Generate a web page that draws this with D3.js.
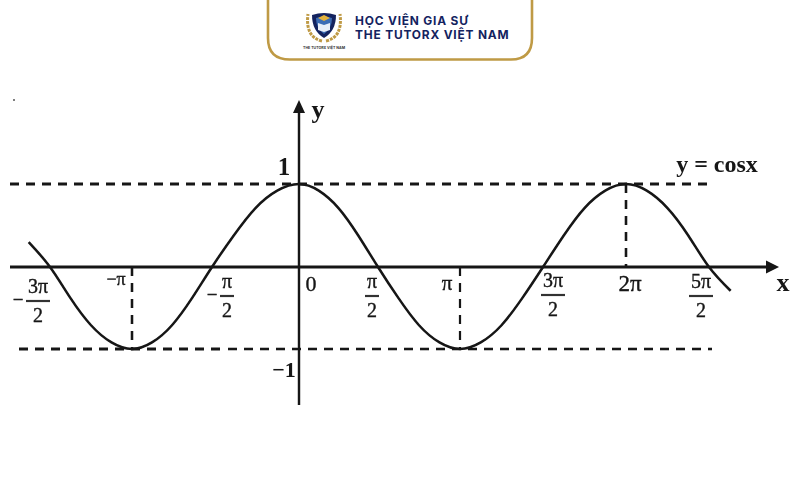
<!DOCTYPE html>
<html><head><meta charset="utf-8">
<script src="https://cdn.jsdelivr.net/npm/d3@7/dist/d3.min.js"></script>
<style>html,body{margin:0;padding:0;background:#fff}svg{display:block}</style></head>
<body><div id="chart"></div>
<script>
// x values are multiples of pi
const tickValues = [-1.5,-1,-0.5,0,0.5,1,1.5,2,2.5];
const curveX = [-1.63,-1.5,-1.375,-1.25,-1.125,-1,-0.875,-0.75,-0.625,-0.5,-0.375,-0.25,-0.125,0,0.125,0.25,0.375,0.5,0.625,0.75,0.875,1,1.125,1.25,1.375,1.5,1.625,1.75,1.875,2,2.125,2.25,2.375,2.5,2.63];
const curveY = [0.30,0,-0.38,-0.71,-0.92,-1,-0.92,-0.71,-0.38,0,0.38,0.71,0.92,1,0.92,0.71,0.38,0,-0.38,-0.71,-0.92,-1,-0.92,-0.71,-0.38,0,0.38,0.71,0.92,1,0.92,0.71,0.38,0,-0.29];
const fractionLabels = [["3π","2","−"],["π","2","−"],["π","2",""],["3π","2",""],["5π","2",""]];
const plainLabels = ["−π","0","π","2π"];
const axisNames = ["x","y"];
const levelLabels = ["1","−1"];
const formula = "y = cosx";
const brandLines = ["HỌC VIỆN GIA SƯ","THE TUTORX VIỆT NAM"];
const brandSmall = "THE TUTORX VIỆT NAM";

const W=800,H=500;
const svg=d3.select("#chart").append("svg").attr("width",W).attr("height",H).attr("viewBox",`0 0 ${W} ${H}`);
const defs=svg.append("defs");
defs.append("filter").attr("id","soft").append("feGaussianBlur").attr("stdDeviation",0.45);
const x=d3.scaleLinear().domain(tickValues).range([50,132,212,299,378,460,543,626,709]);
const y=d3.scaleLinear().domain([-1,0,1]).range([349,267,184]);
const ink="#141414";
const g=svg.append("g").attr("filter","url(#soft)");

// scan speck
g.append("circle").attr("cx",14).attr("cy",100).attr("r",1).attr("fill","#555");

// guides
function guide(x1,y1,x2,y2,w){g.append("line").attr("x1",x1).attr("y1",y1).attr("x2",x2).attr("y2",y2)
  .attr("stroke",ink).attr("stroke-width",w).attr("stroke-dasharray","9 7");}
guide(10,y(1),712,y(1),2.8);
guide(19,y(-1),220,y(-1),3.2);
guide(228,y(-1),712,y(-1),2.5);
guide(x(-1),y(0),x(-1),y(-1),2.5);
guide(x(1),y(0),x(1),y(-1),2.2);
guide(x(2),y(1),x(2),y(0),2.6);

// axes
g.append("line").attr("x1",10).attr("x2",770).attr("y1",y(0)).attr("y2",y(0)).attr("stroke",ink).attr("stroke-width",2.8);
g.append("line").attr("x1",x(0)).attr("x2",x(0)).attr("y1",405).attr("y2",110).attr("stroke",ink).attr("stroke-width",2.4);
g.append("path").attr("d",`M779,${y(0)}L766,${y(0)-6.5}L766,${y(0)+6.5}Z`).attr("fill",ink);
g.append("path").attr("d",`M${x(0)},100L${x(0)-6},113L${x(0)+6},113Z`).attr("fill",ink);

// curve
const line=d3.line().x(d=>x(d[0])).y(d=>y(d[1])).curve(d3.curveNatural);
g.append("path").datum(curveX.map((v,i)=>[v,curveY[i]])).attr("d",line).attr("fill","none").attr("stroke",ink).attr("stroke-width",2.5);

// text helper
function t(s,px,py,size,bold,anchor){return g.append("text").attr("x",px).attr("y",py).attr("font-family","'Liberation Serif',serif")
  .attr("font-size",size).attr("font-weight",bold?"bold":"normal").attr("text-anchor",anchor||"middle").attr("fill",ink)
  .attr("stroke",bold?"none":ink).attr("stroke-width",bold?0:0.35).text(s);}

// fractions: center offset from tick, numerator baseline, bar half width
const fracTicks=[-1.5,-0.5,0.5,1.5,2.5];
const fracCfg=[{dx:-12,ny:293,hw:12,minus:20},{dx:15,ny:288,hw:7,minus:15},{dx:-6,ny:288,hw:7},{dx:10,ny:287,hw:12},{dx:-8,ny:288,hw:12}];
fractionLabels.forEach((f,i)=>{
  const c=fracCfg[i],cx=x(fracTicks[i])+c.dx;
  t(f[0],cx,c.ny,20,false);
  g.append("line").attr("x1",cx-c.hw).attr("x2",cx+c.hw).attr("y1",c.ny+8).attr("y2",c.ny+8).attr("stroke","#333").attr("stroke-width",2.2);
  t(f[1],cx,c.ny+29,20,false);
  if(f[2]) t(f[2],cx-c.minus,c.ny+13,19,false,"middle");
});
// plain tick labels
const plainTicks=[-1,0,1,2];
const plainCfg=[{dx:-16,y:285,s:18},{dx:12,y:291,s:22},{dx:-13,y:290,s:21},{dx:4,y:291,s:23}];
plainLabels.forEach((s,i)=>t(s,x(plainTicks[i])+plainCfg[i].dx,plainCfg[i].y,plainCfg[i].s,false));

t(levelLabels[0],284,175,25,true);
t(levelLabels[1],284,377,22,true);
t(axisNames[0],783,290.5,26,true);
t(axisNames[1],318,118,26,true);
t(formula,717,172,24,true);

// header card
const gold="#bf9a45",navy="#14235f";
svg.append("path").attr("d","M268,-4L268,38Q268,59.5 290,59.5L511,59.5Q532,59.5 532,38L532,-4Z").attr("fill","#fff").attr("stroke",gold).attr("stroke-width",2.6);
const logo=svg.append("g");
// laurels
[[-1],[1]].forEach(([s])=>{
  logo.append("path").attr("d",`M${324+s*2},41 Q${324+s*19},37 ${324+s*16},14`).attr("fill","none").attr("stroke",gold).attr("stroke-width",3).attr("stroke-dasharray","3 1");
});
logo.append("path").attr("d","M312,15Q324,11 336,15Q336,31 324,38Q312,31 312,15Z").attr("fill",navy);
logo.append("path").attr("d","M316,18Q324,15 332,18Q332,28 324,34Q316,28 316,18Z").attr("fill","#3c6cb4");
logo.append("path").attr("d","M318,23L324,25L330,23L330,30L324,32L318,30Z").attr("fill","#e8eef8");
logo.append("path").attr("d","M318,18L324,15L330,18L324,21Z").attr("fill","#e3b23c");
svg.append("text").attr("x",324).attr("y",48.5).attr("text-anchor","middle").attr("font-family","Inter,sans-serif").attr("font-size",3.6).attr("font-weight","bold").attr("fill","#333").text(brandSmall);
const brandText=brandLines.map((s,i)=>svg.append("text").attr("x",355).attr("y",[24.5,39][i]).attr("font-family","Inter,sans-serif").attr("font-weight","bold").attr("font-size",11.9).attr("letter-spacing",0.82).attr("fill",navy).text(s));
</script></body></html>
